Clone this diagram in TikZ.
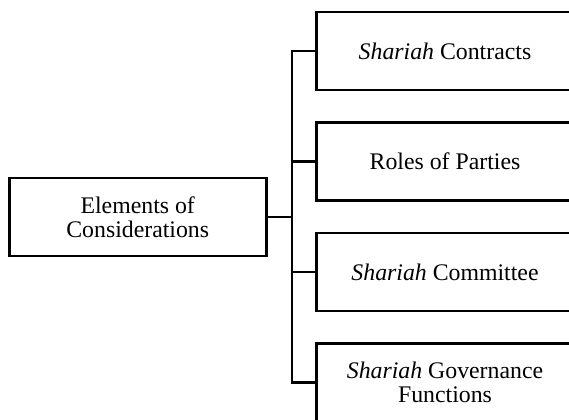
\documentclass[tikz,border=0pt]{standalone}
\usepackage{fontspec}
\setmainfont{Liberation Serif}
\usepackage{tikz}

\begin{document}
\begin{tikzpicture}[x=0.5pt, y=-0.5pt]
% Configuration
\tikzset{elembox/.style={draw, line width=1.4pt, minimum width=128.5pt, minimum height=39pt, align=center, inner sep=0pt, font=\fontsize{11.9}{12}\selectfont}}
\tikzset{link/.style={line width=1.4pt}}
\clip (0,0) rectangle (569,419);
\useasboundingbox (0,0) rectangle (569,419);

% Elements of Considerations
\node[elembox] (E) at (137.75, 217) {Elements of\\Considerations};
\coordinate (J) at (292, 217);

% Branches
\node[elembox] (C) at (445, 51) {\textit{Shariah} Contracts};
\node[elembox] (P) at (445, 161.5) {Roles of Parties};
\node[elembox] (S) at (445, 272) {\textit{Shariah} Committee};
\node[elembox] (G) at (445, 382.5) {\textit{Shariah} Governance\\Functions};

% Connections
\draw[link] (E.east) -- (J);
\draw[link] (J) |- (C.west);
\draw[link] (J) |- (P.west);
\draw[link] (J) |- (S.west);
\draw[link] (J) |- (G.west);
\end{tikzpicture}
\end{document}
